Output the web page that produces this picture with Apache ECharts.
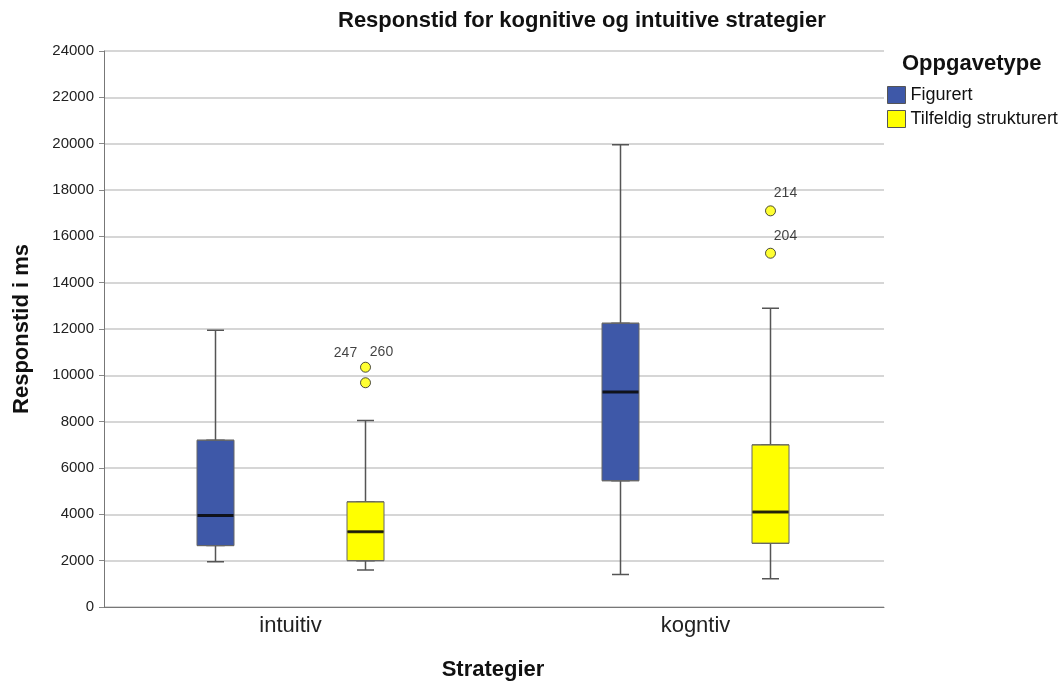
<!DOCTYPE html>
<html>
<head>
<meta charset="utf-8">
<script src="https://cdn.jsdelivr.net/npm/echarts@6/dist/echarts.min.js"></script>
<style>
  html, body { margin: 0; padding: 0; background: #fff; }
  #main { width: 1062px; height: 686px; }
</style>
</head>
<body>
<div id="main"></div>
<script>
// data
const categories = ['intuitiv', 'kogntiv'];
const seriesNames = ['Figurert', 'Tilfeldig strukturert'];
// [lower whisker, Q1, median, Q3, upper whisker]
const figurertStats = [[1950, 2650, 3950, 7200, 11950], [1400, 5450, 9280, 12250, 19950]];
const tilfeldigStats = [[1600, 2000, 3250, 4540, 8050], [1220, 2750, 4100, 7000, 12900]];
// [category index, value, case id]
const tilfeldigOutliers = [[0, 10350, '247'], [0, 9680, '260'], [1, 17100, '214'], [1, 15270, '204']];
const yMin = 0, yMax = 24000, yStep = 2000;

const font = 'Liberation Sans, Arial, sans-serif';
const colors = ['#3e58a8', '#ffff00'];

const chart = echarts.init(document.getElementById('main'));

const boxOnly = s => s.map(d => [d[1], d[1], d[2], d[3], d[3]]);
const medians = s => s.map((d, i) => [i, d[2]]);

function hiddenY(grid) {
  return { type: 'value', gridIndex: grid, min: yMin, max: yMax, interval: yStep, show: false };
}
function hiddenX(grid) {
  return { type: 'category', gridIndex: grid, data: categories, show: false };
}

// label placement for the outlier ids
const outlierLabelOffset = {
  '247': [-20, 3],
  '260': [16, -13],
  '214': [15, 0],
  '204': [15, 0]
};

var option = {
  animation: false,
  backgroundColor: '#fff',
  title: [
    {
      text: 'Responstid for kognitive og intuitive strategier',
      left: 333, top: 5,
      textStyle: { fontFamily: font, fontSize: 22, fontWeight: 'bold', color: '#111' }
    },
    {
      text: 'Oppgavetype',
      left: 897, top: 48,
      textStyle: { fontFamily: font, fontSize: 22, fontWeight: 'bold', color: '#111' }
    }
  ],
  legend: {
    orient: 'vertical',
    left: 882, top: 81,
    itemWidth: 18, itemHeight: 17, itemGap: 6,
    icon: 'rect',
    data: seriesNames.map((n, i) => ({
      name: n,
      itemStyle: { color: colors[i], borderColor: '#555', borderWidth: 1 }
    })),
    textStyle: { fontFamily: font, fontSize: 18, color: '#111' }
  },
  grid: [
    { left: 104, right: 178, top: 51, bottom: 79 },
    { left: 13, width: 810, top: 51, bottom: 79 },
    { left: 163, width: 810, top: 51, bottom: 79 },
    { left: 88, width: 810, top: 51, bottom: 79 }
  ],
  xAxis: [
    {
      type: 'category', gridIndex: 0, data: categories,
      axisLine: { lineStyle: { color: '#777', width: 1 } },
      axisTick: { show: false },
      axisLabel: { show: false }
    },
    hiddenX(1), hiddenX(1), hiddenX(2), hiddenX(2),
    {
      // category labels sit under the middle of each box pair
      type: 'category', gridIndex: 3, data: categories,
      name: 'Strategier', nameLocation: 'middle', nameGap: 61,
      nameTextStyle: { fontFamily: font, fontSize: 22, fontWeight: 'bold', color: '#111' },
      axisLine: { show: false },
      axisTick: { show: false },
      axisLabel: { fontFamily: font, fontSize: 22, color: '#222', margin: 17 }
    }
  ],
  yAxis: [
    {
      type: 'value', gridIndex: 0, min: yMin, max: yMax, interval: yStep,
      name: 'Responstid i ms', nameLocation: 'middle', nameGap: 71, nameRotate: 90,
      nameTextStyle: { fontFamily: font, fontSize: 22, fontWeight: 'bold', color: '#111' },
      axisLine: { show: true, lineStyle: { color: '#777', width: 1 } },
      axisTick: { show: true, length: 5, lineStyle: { color: '#888' } },
      axisLabel: { fontFamily: font, fontSize: 15, color: '#222', margin: 10, formatter: v => String(v) },
      splitLine: { lineStyle: { color: '#c8c8c8', width: 1.5 } }
    },
    hiddenY(1), hiddenY(2), hiddenY(3)
  ],
  series: [
    // whiskers (narrow caps)
    {
      name: 'wf', type: 'boxplot', xAxisIndex: 1, yAxisIndex: 1, z: 2, silent: true,
      boxWidth: [17, 17], data: figurertStats,
      itemStyle: { color: 'transparent', borderColor: '#555', borderWidth: 1.5 }
    },
    {
      name: 'wt', type: 'boxplot', xAxisIndex: 3, yAxisIndex: 2, z: 2, silent: true,
      boxWidth: [17, 17], data: tilfeldigStats,
      itemStyle: { color: 'transparent', borderColor: '#555', borderWidth: 1.5 }
    },
    // boxes
    {
      name: seriesNames[0], type: 'boxplot', xAxisIndex: 2, yAxisIndex: 1, z: 3, silent: true,
      boxWidth: [37, 37], data: boxOnly(figurertStats),
      itemStyle: { color: colors[0], borderColor: '#666', borderWidth: 1 }
    },
    {
      name: seriesNames[1], type: 'boxplot', xAxisIndex: 4, yAxisIndex: 2, z: 3, silent: true,
      boxWidth: [37, 37], data: boxOnly(tilfeldigStats),
      itemStyle: { color: colors[1], borderColor: '#666', borderWidth: 1 }
    },
    // medians
    {
      name: 'mf', type: 'scatter', xAxisIndex: 2, yAxisIndex: 1, z: 4, silent: true,
      symbol: 'rect', symbolSize: [36, 3], data: medians(figurertStats),
      itemStyle: { color: '#000' }
    },
    {
      name: 'mt', type: 'scatter', xAxisIndex: 4, yAxisIndex: 2, z: 4, silent: true,
      symbol: 'rect', symbolSize: [36, 3], data: medians(tilfeldigStats),
      itemStyle: { color: '#000' }
    },
    // outliers
    {
      name: 'ot', type: 'scatter', xAxisIndex: 4, yAxisIndex: 2, z: 5, silent: true,
      symbol: 'circle', symbolSize: 10,
      data: tilfeldigOutliers.map(d => ({
        value: [d[0], d[1]],
        label: { offset: outlierLabelOffset[d[2]] }
      })),
      itemStyle: { color: colors[1], borderColor: '#222', borderWidth: 1 },
      label: {
        show: true, position: 'top', distance: 5,
        fontFamily: font, fontSize: 14, color: '#111',
        formatter: p => tilfeldigOutliers[p.dataIndex][2]
      }
    }
  ]
};

chart.setOption(option);
</script>
</body>
</html>
